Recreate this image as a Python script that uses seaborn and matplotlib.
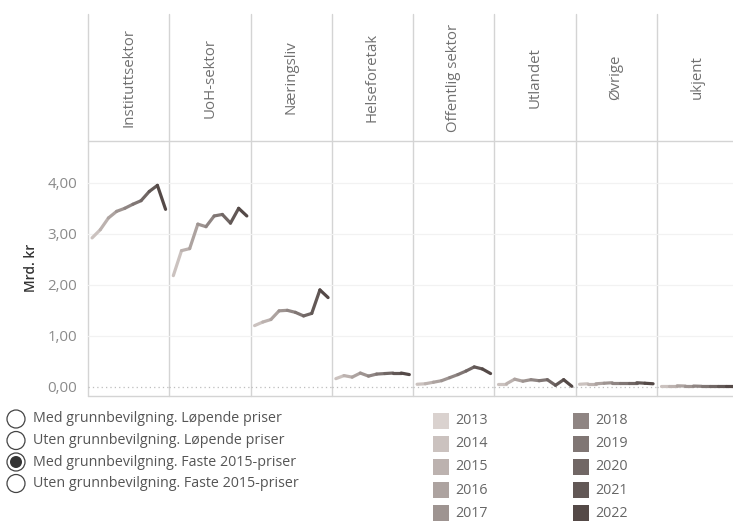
import matplotlib
matplotlib.use("Agg")
import matplotlib.pyplot as plt
from matplotlib.patches import Rectangle, Circle
import seaborn as sns
import pandas as pd

years = list(range(2013, 2023))
sectors = ["Instituttsektor", "UoH-sektor", "Næringsliv", "Helseforetak",
           "Offentlig sektor", "Utlandet", "Øvrige", "ukjent"]

# Mrd. kr, faste 2015-priser
instituttsektor = [2.92, 3.08, 3.31, 3.44, 3.50, 3.58, 3.65, 3.83, 3.95, 3.48]
uohSektor = [2.18, 2.67, 2.71, 3.19, 3.14, 3.35, 3.38, 3.21, 3.50, 3.35]
naeringsliv = [1.20, 1.27, 1.32, 1.49, 1.50, 1.46, 1.39, 1.44, 1.90, 1.75]
helseforetak = [0.16, 0.22, 0.19, 0.27, 0.21, 0.25, 0.26, 0.27, 0.27, 0.24]
offentligSektor = [0.05, 0.06, 0.09, 0.12, 0.18, 0.24, 0.31, 0.39, 0.35, 0.26]
utlandet = [0.06, 0.06, 0.15, 0.11, 0.14, 0.12, 0.14, 0.03, 0.14, 0.01]
ovrige = [0.05, 0.06, 0.06, 0.07, 0.08, 0.08, 0.08, 0.08, 0.07, 0.06]
ukjent = [0.02, 0.02, 0.02, 0.015, 0.015, 0.01, 0.01, 0.01, 0.01, 0.01]
sectorValues = [instituttsektor, uohSektor, naeringsliv, helseforetak,
                offentligSektor, utlandet, ovrige, ukjent]

yearColors = ["#dad2cf", "#cbc2bf", "#bcb2af", "#ada3a0", "#9e9491",
              "#8f8583", "#807674", "#716765", "#625856", "#544947"]
yTicks = [0, 1, 2, 3, 4]

radioOptions = ["Med grunnbevilgning. Løpende priser",
                "Uten grunnbevilgning. Løpende priser",
                "Med grunnbevilgning. Faste 2015-priser",
                "Uten grunnbevilgning. Faste 2015-priser"]
selectedOption = 2

# long table: one two-point segment per year step, coloured by the end year
rows = []
for sector, values in zip(sectors, sectorValues):
    for i in range(1, len(years)):
        for j in (i - 1, i):
            rows.append({"sector": sector, "year": years[j],
                         "value": values[j], "seg": years[i]})
df = pd.DataFrame(rows)
palette = dict(zip(years, yearColors))

sns.set_style("white")
plt.rcParams["font.family"] = ["Open Sans", "DejaVu Sans"]

W, H = 733, 522
fig = plt.figure(figsize=(W / 100, H / 100), dpi=100)

panelLeft, panelStep = 88, 81.25
plotTop, plotBottom, headTop = 141, 396, 14
ylo, yhi = -0.18, 4.82
gridColor = "#d4d4d4"

for k, sector in enumerate(sectors):
    x0 = panelLeft + k * panelStep
    ax = fig.add_axes([x0 / W, 1 - plotBottom / H, panelStep / W,
                       (plotBottom - plotTop) / H])
    for t in yTicks[1:]:
        ax.axhline(t, color="#f2f2f2", lw=0.9, zorder=0)
    ax.axhline(0, color="#bdbdbd", lw=0.9, ls=(0, (1, 2.5)), zorder=0)
    sns.lineplot(data=df[df.sector == sector], x="year", y="value", hue="seg",
                 palette=palette, units="seg", estimator=None, legend=False,
                 linewidth=2.3, ax=ax, solid_capstyle="round")
    ax.set_xlim(2012.5, 2022.45)
    ax.set_ylim(ylo, yhi)
    ax.set_xticks([])
    ax.set_xlabel("")
    ax.set_ylabel("")
    for s in ax.spines.values():
        s.set_visible(False)
    if k == 0:
        ax.set_yticks(yTicks)
        ax.set_yticklabels([f"{t:.2f}".replace(".", ",") for t in yTicks],
                           color="#8a8a8a", fontsize=10.8)
        ax.tick_params(axis="y", length=0, pad=8)
    else:
        ax.set_yticks([])
    ax.patch.set_alpha(0)

# overlay in pixel coordinates for frame, headers, legend and radio buttons
ov = fig.add_axes([0, 0, 1, 1])
ov.set_xlim(0, W)
ov.set_ylim(H, 0)
ov.axis("off")
ov.set_zorder(-1)

right = panelLeft + len(sectors) * panelStep
ov.plot([panelLeft, right], [plotTop, plotTop], color=gridColor, lw=1)
ov.plot([panelLeft, right], [plotBottom, plotBottom], color=gridColor, lw=1)
for k in range(len(sectors) + 1):
    x = panelLeft + k * panelStep
    ov.plot([x, x], [headTop, plotBottom], color=gridColor, lw=1)
for k, sector in enumerate(sectors):
    ov.text(panelLeft + (k + 0.5) * panelStep, (headTop + plotTop) / 2, sector,
            rotation=90, ha="center", va="center", color="#707070",
            fontsize=10.8)

ov.text(31, 268, "Mrd. kr", rotation=90,
        ha="center", va="center", color="#333333", fontsize=10,
        fontweight="semibold")

# radio buttons
for i, label in enumerate(radioOptions):
    y = 419 + i * 21.5
    ov.add_patch(Circle((16, y), 9, facecolor="white", edgecolor="#444444",
                        lw=0.9))
    if i == selectedOption:
        ov.add_patch(Circle((16, y), 6, facecolor="#333333", edgecolor="none"))
    ov.text(33, y, label, ha="left", va="center", color="#555555",
            fontsize=10.3)

# year legend
for i, (year, color) in enumerate(zip(years, yearColors)):
    col, row = divmod(i, 5)
    sx = 433 + col * 140
    sy = 420.5 + row * 23.2
    ov.add_patch(Rectangle((sx - 0.5, sy - 8), 16, 16, facecolor=color,
                           edgecolor="none"))
    ov.text(sx + 22, sy, str(year), ha="left", va="center", color="#666666",
            fontsize=10.3)

fig.savefig("out.png", dpi=100)
